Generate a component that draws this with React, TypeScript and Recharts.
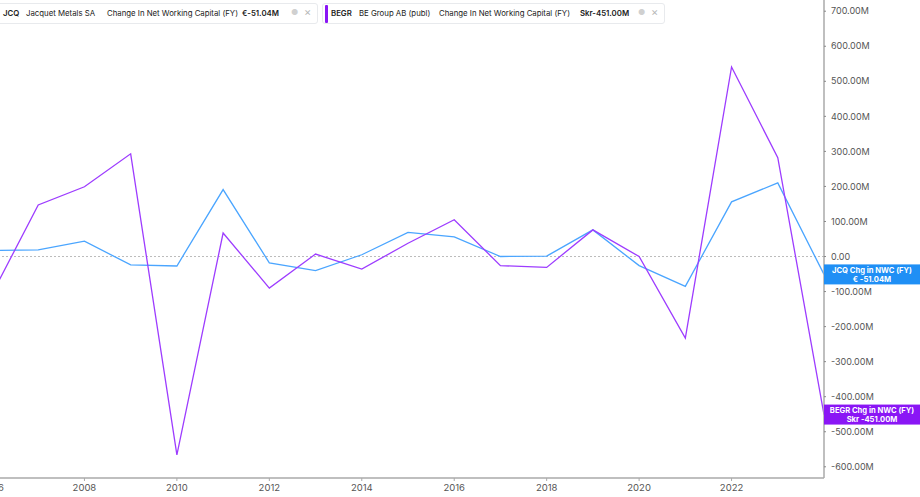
import React from "react";
import { LineChart, Line, XAxis, YAxis, ReferenceLine } from "recharts";

const years = [2006, 2007, 2008, 2009, 2010, 2011, 2012, 2013, 2014, 2015, 2016, 2017, 2018, 2019, 2020, 2021, 2022, 2023, 2024];
const jcq = [17, 19, 44, -24, -27, 191, -18, -40, 5, 69, 56, 0, 1, 76, -26, -85, 156, 210, -51.04];
const begr = [-107, 147, 199, 293, -566, 67, -90, 7, -36, 38, 105, -26, -31, 76, 0, -233, 541, 282, -451];
const xTicks = [2006, 2008, 2010, 2012, 2014, 2016, 2018, 2020, 2022];
const yTicks = [-600, -500, -400, -300, -200, -100, 0, 100, 200, 300, 400, 500, 600, 700];

const data = years.map((y, i) => ({ year: y, jcq: jcq[i], begr: begr[i] }));

const BLUE = "#4aa5ff";
const BLUE_TAG = "#1f8ff5";
const PURPLE = "#9d3cff";
const PURPLE_TAG = "#8a16f5";
const FONT = "Inter, 'Noto Sans', sans-serif";

const fmtY = (v: number) => (v === 0 ? "0.00" : `${v.toFixed(2)}M`);

const endTag = (line1: string, line2: string, bg: string) => (props: any) => {
  const { x, y, index } = props;
  if (index !== years.length - 1) return null;
  return (
    <g>
      <rect x={x} y={y - 10} width={96} height={20} fill={bg} />
      <text x={x + 48} y={y - 1.5} textAnchor="middle" fill="#fff" fontSize={7.6} fontWeight={700} fontFamily={FONT}>
        {line1}
      </text>
      <text x={x + 48} y={y + 7.5} textAnchor="middle" fill="#fff" fontSize={7.6} fontWeight={700} fontFamily={FONT}>
        {line2}
      </text>
    </g>
  );
};

// legend pill; item x positions are relative to the page
const Legend = ({ left, right, bar, items, icon }: any) => (
  <>
    <div
      style={{
        position: "absolute",
        left,
        top: 3,
        width: right - left,
        height: 21,
        background: "#fff",
        border: "1px solid #e8eaed",
        borderRadius: 3,
        boxSizing: "border-box",
      }}
    />
    {bar && <div style={{ position: "absolute", left: bar.x, top: 5, width: 2.5, height: 18, background: bar.c, borderRadius: 1 }} />}
    {items.map((it: any, i: number) => (
      <span
        key={i}
        style={{
          position: "absolute",
          left: it.x,
          top: 8,
          fontFamily: FONT,
          fontSize: 7.8,
          lineHeight: "10px",
          color: "#222",
          fontWeight: it.bold ? 600 : 400,
          whiteSpace: "nowrap",
        }}
      >
        {it.t}
      </span>
    ))}
    <span style={{ position: "absolute", left: icon, top: 7, fontSize: 8, color: "#d0d0d0", fontFamily: FONT }}>&#9679;</span>
    <span style={{ position: "absolute", left: icon + 13, top: 5, fontSize: 11, color: "#b8b8b8", fontFamily: FONT }}>×</span>
  </>
);

export default function App() {
  return (
    <div style={{ position: "absolute", left: 0, top: 0, width: 920, height: 497, overflow: "hidden", background: "#fff" }}>
      <div style={{ position: "absolute", left: -8, top: 0 }}>
        <LineChart width={928} height={497} data={data} margin={{ top: 0, right: 0, bottom: 0, left: 0 }}>
          <XAxis
            dataKey="year"
            type="number"
            domain={[2006, 2024]}
            ticks={xTicks}
            interval={0}
            height={19}
            axisLine={{ stroke: "#aaa", strokeWidth: 1.5 }}
            tickLine={{ stroke: "#aaa" }}
            tickSize={3}
            tickMargin={3}
            tick={{ fill: "#555", fontSize: 9.5, fontFamily: FONT }}
          />
          <YAxis
            orientation="right"
            domain={[-632, 732]}
            ticks={yTicks}
            width={96}
            tickFormatter={fmtY}
            axisLine={{ stroke: "#aaa", strokeWidth: 1.5 }}
            tickLine={{ stroke: "#888" }}
            tickSize={2}
            tickMargin={5}
            tick={{ fill: "#555", fontSize: 9, fontFamily: FONT }}
            allowDataOverflow
          />
          <ReferenceLine y={0} stroke="#bbb" strokeDasharray="2 2" />
          <Line
            dataKey="jcq"
            stroke={BLUE}
            strokeWidth={1.3}
            dot={false}
            isAnimationActive={false}
            label={endTag("JCQ Chg in NWC (FY)", "€ -51.04M", BLUE_TAG)}
          />
          <Line
            dataKey="begr"
            stroke={PURPLE}
            strokeWidth={1.3}
            dot={false}
            isAnimationActive={false}
            label={endTag("BEGR Chg in NWC (FY)", "Skr -451.00M", PURPLE_TAG)}
          />
        </LineChart>
      </div>
      <Legend
        left={-4}
        right={318}
        icon={291}
        items={[
          { t: "JCQ", x: 3, bold: true },
          { t: "Jacquet Metals SA", x: 26 },
          { t: "Change In Net Working Capital (FY)", x: 107 },
          { t: "€-51.04M", x: 242, bold: true },
        ]}
      />
      <Legend
        left={322}
        right={665}
        icon={638}
        bar={{ x: 325, c: PURPLE_TAG }}
        items={[
          { t: "BEGR", x: 331, bold: true },
          { t: "BE Group AB (publ)", x: 359 },
          { t: "Change In Net Working Capital (FY)", x: 439 },
          { t: "Skr-451.00M", x: 580, bold: true },
        ]}
      />
    </div>
  );
}
